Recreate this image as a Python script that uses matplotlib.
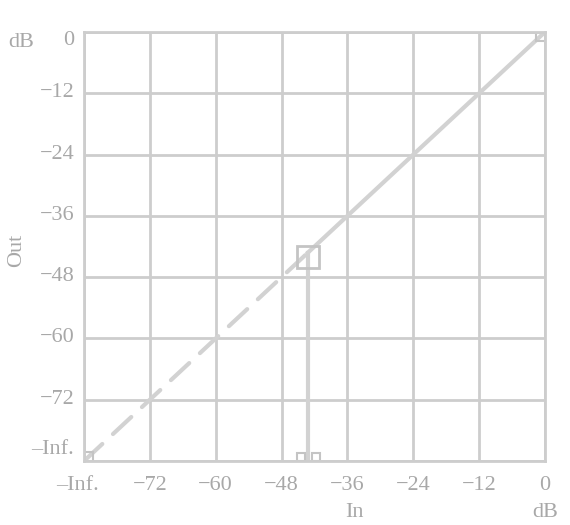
import matplotlib
matplotlib.use('Agg')
import matplotlib.pyplot as plt
from matplotlib.transforms import ScaledTranslation

# gate transfer curve, dB
inf_pos = -84  # where "-Inf." sits on both axes
threshold = -43.2
ticks = [-84, -72, -60, -48, -36, -24, -12, 0]
x_labels = ['\u2013Inf.', '\u221272', '\u221260', '\u221248', '\u221236', '\u221224', '\u221212', '0']
y_labels = ['\u2013Inf.', '\u221272', '\u221260', '\u221248', '\u221236', '\u221224', '\u221212', '0']
handle_x = [-44.4, -41.8]  # small handles at the bottom
handle_y = [-83.3, -83.3]

line_c = '#d2d2d2'
grid_c = '#cdcdcd'
text_c = '#a8a8a8'
fs = 16

plt.rcParams['font.family'] = ['Liberation Serif', 'DejaVu Serif']

fig = plt.figure(figsize=(5.7, 5.25), dpi=100)
ax = fig.add_axes([84 / 570, 1 - 461 / 525, 461 / 570, 429 / 525])
ax.set_xlim(inf_pos, 0)
ax.set_ylim(inf_pos, 0)

ax.set_xticks(ticks)
ax.set_xticklabels(x_labels)
ax.set_yticks(ticks)
ax.set_yticklabels(y_labels)
ax.tick_params(axis='x', length=0, labelsize=fs, colors=text_c, pad=11)
ax.tick_params(axis='y', length=0, labelsize=fs, colors=text_c, pad=7)
ax.grid(True, color=grid_c, linewidth=2)
for s in ax.spines.values():
    s.set_color(grid_c)
    s.set_linewidth(2)

# nudge the end labels like the original
def nudge(lab, dx, dy):
    lab.set_transform(lab.get_transform() + ScaledTranslation(dx / 100, dy / 100, fig.dpi_scale_trans))

ylabs = ax.get_yticklabels()
nudge(ylabs[0], 0, 14)
nudge(ylabs[-1], 0, -6)
for lab in ylabs[1:-1]:
    nudge(lab, 0, 3)
nudge(ax.get_xticklabels()[0], -7, 0)

# below threshold: dashed, above: solid
ax.plot([inf_pos, threshold], [inf_pos, threshold], color=line_c, lw=3,
        ls=(0, (6, 3.5)), solid_capstyle='round', dash_capstyle='round')
ax.plot([threshold, 0], [threshold, 0], color=line_c, lw=3)
ax.plot([threshold, threshold], [threshold, inf_pos], color=line_c, lw=3)

ax.plot([threshold], [threshold - 0.8], marker='s', ms=16, mfc='none', mec='#c4c4c4', mew=2)
ax.plot(handle_x, handle_y, ls='none', marker='s', ms=6, mfc='white', mec='#c4c4c4', mew=1.5)
ax.plot([0, inf_pos], [0, inf_pos], ls='none', marker='s', ms=13, mfc='none', mec='#c4c4c4', mew=1.5)

fig.text(8 / 570, 1 - 47 / 525, 'dB', fontsize=fs, color=text_c)
fig.text(354 / 570, 1 - 517 / 525, 'In', fontsize=fs, color=text_c, ha='center', va='baseline')
fig.text(545 / 570, 1 - 517 / 525, 'dB', fontsize=fs, color=text_c, ha='center', va='baseline')
fig.text(17 / 570, 1 - 250 / 525, 'Out', fontsize=fs, color=text_c, rotation=90,
         ha='center', va='center')

fig.savefig('out.png', dpi=100, facecolor='white')
